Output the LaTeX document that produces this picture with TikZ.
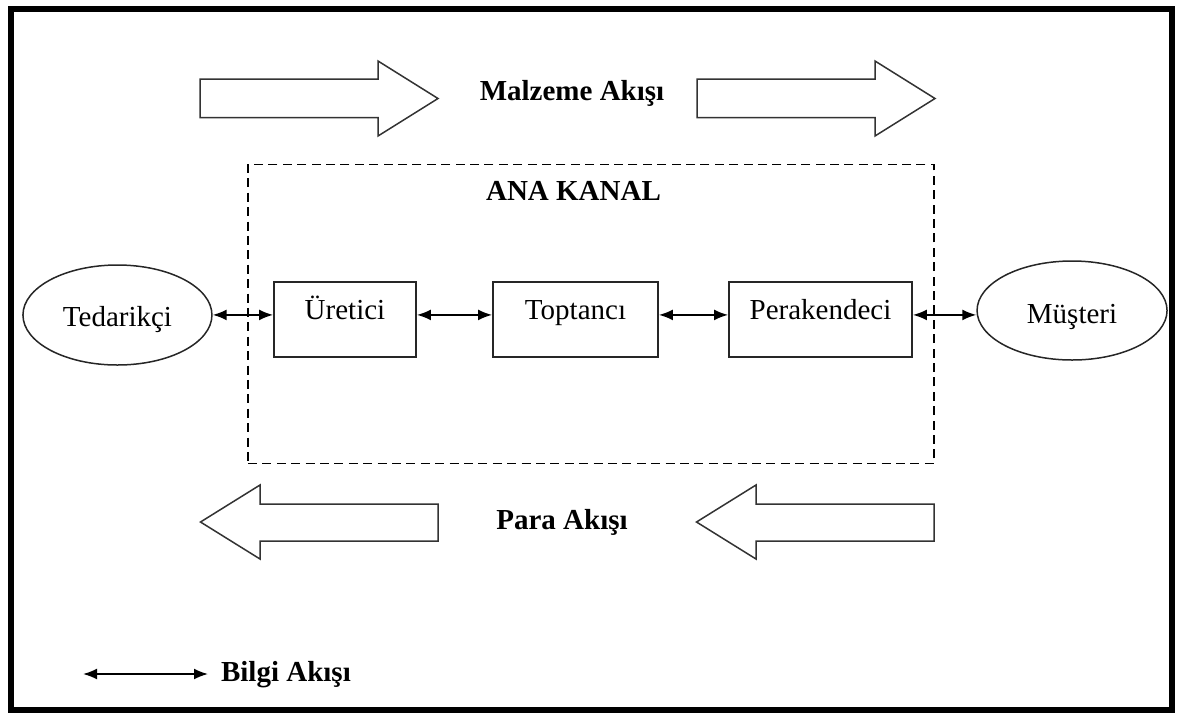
\documentclass[tikz,border=0pt]{standalone}
\usepackage{fontspec}
\setmainfont{Liberation Serif}
\usetikzlibrary{arrows.meta,positioning,shapes.geometric}
\newcommand{\diagfont}{\fontsize{14.5}{17}\selectfont}
\tikzset{
	member/.style={
		rectangle,
		draw=black!85,
		line width=0.9pt,
		minimum height=37.5pt,
		text height=1ex,
		text depth=1ex,
		text centered
	},
	party/.style={
		ellipse,
		draw=black!85,
		line width=0.75pt,
		minimum width=94.5pt,
		minimum height=50pt,
		text height=11pt,
		text depth=0pt
	},
	info/.style={
		line width=0.9pt,
		{Latex[length=7pt,width=5.5pt]}-{Latex[length=7pt,width=5.5pt]}
	},
	flow/.style={
		draw=black!80,
		line width=0.75pt,
		fill=white
	},
	channel/.style={
		draw,
		dash pattern=on 4.5pt off 2.7pt,
		line width=0.8pt,
		minimum width=343pt,
		minimum height=149.5pt
	},
	flowlabel/.style={
		font=\diagfont\bfseries,
		anchor=base
	},
}

\begin{document}
\begin{tikzpicture}[x=0.5pt,y=-0.5pt,font=\diagfont]
\useasboundingbox (0,0) rectangle (1177,713);
\draw[line width=3pt] (10.5,8.5) rectangle (1172,710);

% material and money flows
\draw[flow] (200,79) -- (378,79) -- (378,61) -- (438,98.5) -- (378,136) -- (378,117.5) -- (200,117.5) -- cycle;
\draw[flow] (697,79) -- (875,79) -- (875,61) -- (935,98.5) -- (875,136) -- (875,117.5) -- (697,117.5) -- cycle;
\draw[flow] (438,504) -- (260,504) -- (260,485) -- (200.5,522) -- (260,559) -- (260,541) -- (438,541) -- cycle;
\draw[flow] (934,504) -- (756,504) -- (756,485) -- (696.5,522) -- (756,559) -- (756,541) -- (934,541) -- cycle;
\node[flowlabel] (malzeme) at (572,100.7) {Malzeme Akışı};
\node[flowlabel] (para) at (562,529.3) {Para Akışı};

% main channel
\node[channel] (kanal) at (591,314) {};
\node[flowlabel] (anakanal) at (573.5,200.7) {ANA KANAL};
\node[member,minimum width=71pt] (ured) at (345,319.5) {Üretici};
\node[member,minimum width=82.5pt] (topt) [right=37.6pt of ured] {Toptancı};
\node[member,minimum width=91.5pt] (perak) [right=34.6pt of topt] {Perakendeci};
\node[party] (ted) [left=30.2pt of ured,yshift=2.25pt] {Tedarikçi};
\node[party,minimum width=95pt,minimum height=49.5pt,text height=12.5pt] (must) [right=31.7pt of perak,yshift=4.5pt] {Müşteri};

\draw[info] (ted.east |- ured.mid west) -- (ured.mid west);
\draw[info] (ured.mid east) -- (topt.mid west);
\draw[info] (topt.mid east) -- (perak.mid west);
\draw[info] (perak.mid east) -- (must.west |- perak.mid east);

% legend
\node[flowlabel,anchor=base west] (bilgi) at (214,681) {Bilgi Akışı};
\coordinate (legend) at (83,674);
\draw[info,shorten >=3pt] (legend) -- (legend -| bilgi.west);
\end{tikzpicture}
\end{document}
